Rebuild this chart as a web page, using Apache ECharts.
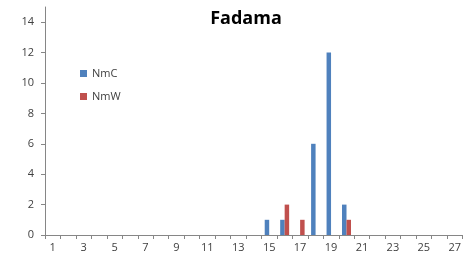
<!DOCTYPE html>
<html><head><meta charset="utf-8">
<script src="https://cdn.jsdelivr.net/npm/echarts@6/dist/echarts.min.js"></script>
<style>html,body{margin:0;padding:0;background:#fff}#c{width:464px;height:257px}</style>
</head><body><div id="c"></div>
<script>
const categories = ['1','2','3','4','5','6','7','8','9','10','11','12','13','14','15','16','17','18','19','20','21','22','23','24','25','26','27'];
const nmC = [0,0,0,0,0,0,0,0,0,0,0,0,0,0,1,1,0,6,12,2,0,0,0,0,0,0,0];
const nmW = [0,0,0,0,0,0,0,0,0,0,0,0,0,0,0,2,1,0,0,1,0,0,0,0,0,0,0];
const yTicks = [0,2,4,6,8,10,12,14];
const titleText = 'Fadama';

const chart = echarts.init(document.getElementById('c'));
const font = 'Open Sans, Liberation Sans, sans-serif';
chart.setOption({
  animation: false,
  title: { text: titleText, left: 241, top: 5, textAlign: 'center',
    textStyle: { fontFamily: font, fontSize: 18, fontWeight: 'bold', color: '#000' } },
  legend: { orient: 'vertical', left: 75, top: 63, itemWidth: 7, itemHeight: 7, itemGap: 12,
    icon: 'rect', textStyle: { fontFamily: font, fontSize: 11, color: '#404040' },
    data: ['NmC', 'NmW'] },
  grid: { left: 45, right: 0, top: 7, bottom: 22 },
  xAxis: { type: 'category', data: categories,
    axisLine: { lineStyle: { color: '#868686' } },
    axisTick: { show: true, interval: 0, alignWithLabel: false, length: 4, lineStyle: { color: '#868686' } },
    axisLabel: { interval: 1, fontFamily: font, fontSize: 11, color: '#404040', margin: 7 } },
  yAxis: { type: 'value', min: 0, max: 15,
    splitLine: { show: false },
    axisLine: { show: true, lineStyle: { color: '#868686' } },
    axisTick: { show: true, length: 4, customValues: yTicks, lineStyle: { color: '#868686' } },
    axisLabel: { customValues: yTicks, fontFamily: font, fontSize: 11, color: '#404040', margin: 11 } },
  series: [
    { name: 'NmC', type: 'bar', data: nmC, barGap: '0%', barCategoryGap: '42%', itemStyle: { color: '#4F81BD' } },
    { name: 'NmW', type: 'bar', data: nmW, barGap: '0%', barCategoryGap: '42%', itemStyle: { color: '#C0504D' } }
  ]
});
</script></body></html>
